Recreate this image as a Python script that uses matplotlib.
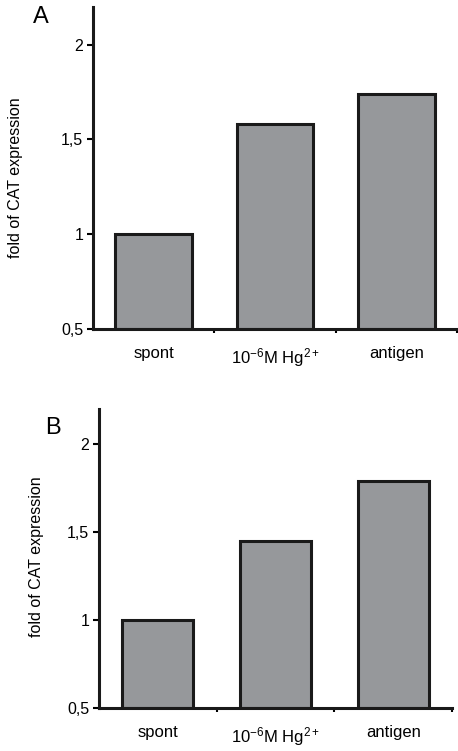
import matplotlib
matplotlib.use("Agg")
import matplotlib.pyplot as plt

categories = ["spont", r"10$^{-6}$M Hg$^{2+}$", "antigen"]
values_a = [1.0, 1.58, 1.74]
values_b = [1.0, 1.45, 1.79]
ytick_vals = [0.5, 1.0, 1.5, 2.0]
ytick_labels = ["0,5", "1", "1,5", "2"]
ylabel = "fold of CAT expression"

plt.rcParams["font.family"] = ["Liberation Sans", "DejaVu Sans"]
plt.rcParams["mathtext.fontset"] = "custom"
plt.rcParams["mathtext.rm"] = "Liberation Sans"
plt.rcParams["mathtext.it"] = "Liberation Sans"
plt.rcParams["mathtext.default"] = "rm"

W, H = 458, 751
fig = plt.figure(figsize=(W / 100, H / 100), dpi=100)
axA = fig.add_axes([0.203, 0.562, 0.795, 0.429])
axB = fig.add_axes([0.216, 0.057, 0.771, 0.398])

def draw(ax, vals, width):
    x = list(range(len(categories)))
    ax.bar(x, [v - 0.5 for v in vals], bottom=0.5, width=width,
           color="#96989b", edgecolor="#1a1a1a", linewidth=2.2, zorder=2)
    ax.set_xlim(-0.5, 2.5)
    ax.set_ylim(0.5, 2.2)
    for s in ["top", "right"]:
        ax.spines[s].set_visible(False)
    for s in ["left", "bottom"]:
        ax.spines[s].set_linewidth(2.2)
        ax.spines[s].set_color("#1a1a1a")
    ax.set_yticks(ytick_vals)
    ax.set_yticklabels(ytick_labels, fontsize=11.5)
    ax.tick_params(axis="y", length=4, width=1.5, direction="out", pad=3)
    ax.set_xticks(x)
    ax.set_xticklabels(categories, fontsize=12)
    ax.tick_params(axis="x", which="major", length=0, pad=12)
    ax.set_xticks([0.5, 1.5, 2.5], minor=True)
    ax.tick_params(axis="x", which="minor", length=3, width=1.5, direction="out")

draw(axA, values_a, 0.63)
draw(axB, values_b, 0.60)

fig.text(16 / W, 1 - 178 / H, ylabel, fontsize=11.5, rotation=90, ha="center", va="center")
fig.text(37 / W, 1 - 557 / H, ylabel, fontsize=11.5, rotation=90, ha="center", va="center")
fig.text(33 / W, 1 - 17 / H, "A", fontsize=17, va="center", ha="left")
fig.text(45 / W, 1 - 428 / H, "B", fontsize=17, va="center", ha="left")

fig.savefig("out.png", dpi=100)
